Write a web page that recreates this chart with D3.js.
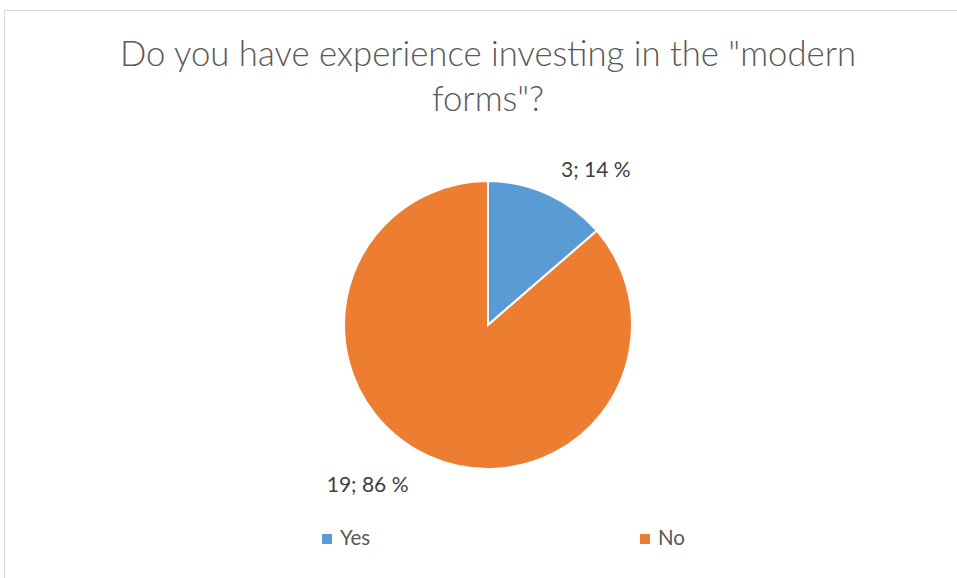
<!DOCTYPE html>
<html>
<head>
<meta charset="utf-8">
<script src="https://cdn.jsdelivr.net/npm/d3@7"></script>
<style>
  html, body { margin: 0; padding: 0; background: #fff; }
  svg { display: block; font-family: "Lato", "Open Sans", sans-serif; }
</style>
</head>
<body>
<svg id="chart" width="957" height="578"></svg>
<script>
// Survey answers
const categories = ["Yes", "No"];
const counts = [3, 19];
const colors = ["#5b9bd5", "#ed7d31"];
const titleLines = ["Do you have experience investing in the \"modern", "forms\"?"];

const svg = d3.select("#chart");
const W = 957, H = 578;

// chart area frame
svg.append("rect")
  .attr("x", 4.5).attr("y", 10.5)
  .attr("width", W + 10).attr("height", H + 10)
  .attr("fill", "#fff").attr("stroke", "#d9d9d9").attr("stroke-width", 1);

// title
const title = svg.append("text")
  .attr("text-anchor", "middle")
  .attr("fill", "#595959")
  .attr("font-weight", 300)
  .attr("font-size", 34.7);
titleLines.forEach((t, i) => {
  title.append("tspan").attr("x", 488).attr("y", 66 + i * 45).text(t);
});

// pie
const cx = 488, cy = 325, r = 144;
const total = d3.sum(counts);
const pie = d3.pie().sort(null).value(d => d)(counts);
const arc = d3.arc().innerRadius(0).outerRadius(r);
const g = svg.append("g").attr("transform", `translate(${cx},${cy})`);
g.selectAll("path").data(pie).join("path")
  .attr("d", arc)
  .attr("fill", (d, i) => colors[i])
  .attr("stroke", "#fff").attr("stroke-width", 2);

// data labels: "count; percent %"
const labelAngleShift = [0.71, 0.54];   // fraction of slice span where the label sits
const labelRadius = [1.31, 1.39];
g.selectAll("text.lbl").data(pie).join("text")
  .attr("class", "lbl")
  .attr("text-anchor", "middle")
  .attr("font-size", 21)
  .attr("fill", "#404040")
  .attr("x", (d, i) => {
    const a = d.startAngle + (d.endAngle - d.startAngle) * labelAngleShift[i];
    return Math.sin(a) * r * labelRadius[i];
  })
  .attr("y", (d, i) => {
    const a = d.startAngle + (d.endAngle - d.startAngle) * labelAngleShift[i];
    return -Math.cos(a) * r * labelRadius[i] + 7;
  })
  .text((d, i) => `${counts[i]}; ${Math.round(counts[i] / total * 100)} %`);

// legend
const legendX = d3.scalePoint().domain(categories).range([322, 640]);
const leg = svg.append("g").selectAll("g").data(categories).join("g")
  .attr("transform", d => `translate(${legendX(d)},534)`);
leg.append("rect").attr("width", 10).attr("height", 10)
  .attr("fill", (d, i) => colors[i]);
leg.append("text").attr("x", 18).attr("y", 11)
  .attr("font-size", 20.5).attr("fill", "#595959").text(d => d);
</script>
</body>
</html>
